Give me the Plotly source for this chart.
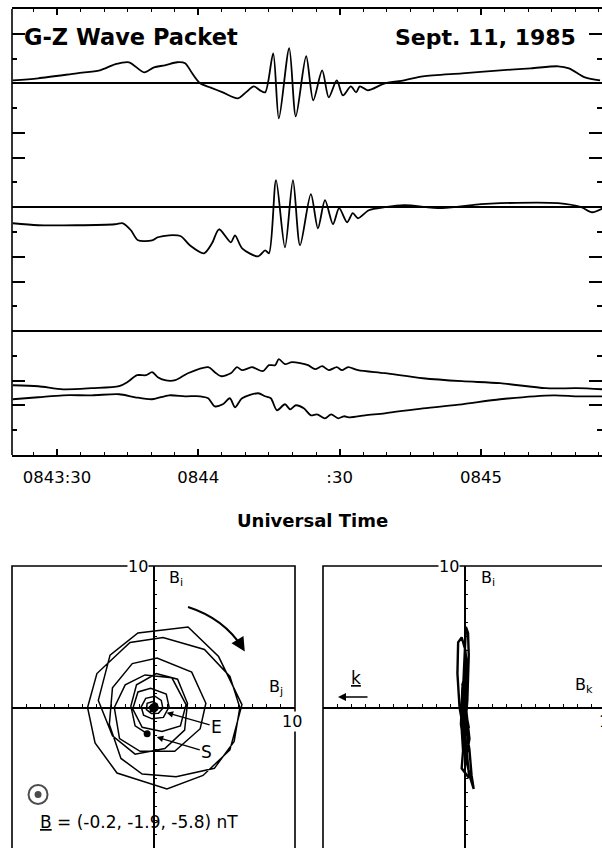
import plotly.graph_objects as go

# ---------------------------------------------------------------------------
# Data: magnetometer traces (time in seconds after 08:43:00 UT, field in nT)
# ---------------------------------------------------------------------------
t_top = [20.6, 26.0, 34.2, 39.1, 42.3, 45.3, 48.5, 50.6, 52.9, 55.5, 57.2, 58.7,
         60.4, 62.5, 65.2, 68.4, 70.1, 71.8, 73.1, 74.2, 75.9, 77.1, 79.3, 80.7,
         82.9, 84.4, 86.3, 87.7, 89.4, 90.7, 92.4, 93.5, 94.3, 96.0, 99.6, 103.7,
         107.7, 116.0, 124.1, 130.6, 136.4, 138.7, 142.1, 145.3]
b_top = [0.49, 0.81, 1.62, 2.10, 3.07, 3.40, 1.78, 2.59, 2.91, 3.40, 3.24, 1.62,
         0.00, -0.65, -1.46, -2.43, -1.46, -0.49, -1.13, -1.46, 4.85, -5.66, 5.66, -5.34,
         4.37, -2.75, 2.10, -2.27, 0.49, -1.94, -0.49, -1.46, -0.49, -1.13, 0.00, 0.49,
         1.13, 1.62, 2.10, 2.43, 2.75, 2.43, 0.97, 0.49]

t_mid = [20.6, 26.0, 34.2, 42.3, 44.0, 45.7, 47.2, 50.2, 51.4, 53.8, 56.3, 58.2,
         61.2, 62.9, 64.4, 66.9, 67.8, 69.3, 72.7, 74.2, 75.0, 76.5, 78.4, 80.1,
         81.6, 83.9, 85.4, 86.9, 88.6, 89.9, 91.6, 92.8, 93.9, 96.2, 99.6, 103.7,
         111.7, 120.0, 124.1, 136.4, 141.3, 143.6, 145.9]
b_mid = [-2.59, -2.91, -2.91, -2.75, -2.59, -3.72, -5.34, -5.34, -4.85, -4.53, -4.69, -6.15,
         -7.44, -5.83, -3.56, -5.66, -4.53, -6.63, -7.93, -6.96, -7.44, 4.37, -6.47, 4.37,
         -6.15, 2.10, -3.40, 1.13, -2.75, -0.16, -2.43, -0.97, -1.78, -0.49, 0.00, 0.32,
         -0.16, 0.49, 0.65, 0.65, 0.00, -0.81, -0.16]

t_low_a = [20.6, 26.0, 31.3, 37.4, 43.2, 44.9, 47.0, 48.9, 50.2, 51.4, 52.9, 55.1,
           57.8, 62.1, 63.5, 64.8, 66.9, 68.2, 69.3, 71.4, 73.7, 75.0, 76.3, 77.1,
           78.4, 79.9, 83.3, 84.8, 86.3, 87.7, 89.4, 90.5, 91.8, 93.9, 99.6, 107.7,
           116.0, 124.1, 133.8, 140.4, 145.9]
b_low_a = [-8.74, -8.90, -9.39, -9.22, -8.90, -8.25, -7.12, -7.12, -6.63, -7.44, -7.93, -7.93,
           -6.80, -5.83, -6.63, -7.28, -6.80, -5.83, -6.31, -5.83, -6.47, -5.50, -5.50, -4.53,
           -5.34, -5.02, -5.50, -6.15, -5.66, -6.31, -5.83, -6.31, -5.83, -6.31, -6.80, -7.61,
           -8.09, -8.41, -9.22, -9.22, -9.39]

t_low_b = [20.6, 26.0, 31.3, 37.4, 43.2, 46.6, 50.2, 53.8, 57.2, 60.4, 62.1, 63.5,
           65.2, 66.7, 67.8, 69.3, 72.7, 74.2, 75.4, 76.7, 78.4, 79.5, 80.7, 82.4,
           83.9, 85.2, 86.9, 88.2, 89.7, 90.9, 92.2, 95.4, 99.6, 107.7, 116.0, 124.1,
           135.5, 140.4, 145.9]
b_low_b = [-11.00, -10.68, -10.36, -10.36, -10.19, -10.68, -11.00, -10.36, -10.52, -10.52, -10.84, -12.14,
           -11.81, -10.84, -12.30, -10.84, -10.03, -10.52, -10.84, -12.78, -11.81, -12.62, -11.97, -12.46,
           -13.59, -13.43, -14.08, -13.43, -14.08, -13.75, -13.92, -13.59, -13.27, -12.46, -11.81, -11.00,
           -10.36, -10.52, -10.52]

time_tickvals = [30, 60, 90, 120]
time_ticktext = ["0843:30", "0844", ":30", "0845"]

# Hodogram samples (nT), from S (start) to E (end)
hodo_bj = [-0.45,
           -1.30, -1.60, -1.20, 0.20, 1.70, 2.40, 2.20, 0.80, -1.30, -2.90, -3.90, -3.07,
           -1.10, 2.44, 4.60, 6.25, 5.40, 3.50, 0.95, -2.58, -4.13, -4.66, -4.00, -1.66,
           0.67, 3.60, 5.40, 6.10, 5.70, 4.30, 1.60, -0.80, -2.30, -3.12, -2.90, -1.50,
           0.25, 2.70, 3.70, 3.30, 1.50, -0.95, -2.40, -2.77, -2.00, -0.60,
           1.30, 2.30, 1.90, 0.60, -0.80, -1.47, -1.10, -0.20,
           0.90, 1.10, 0.70, -0.10, -0.70, -0.87, -0.55, 0.10,
           0.55, 0.66, 0.35, -0.15, -0.50, -0.45, -0.05,
           0.25, 0.30, 0.10, -0.20, -0.28, -0.10,
           0.05]
hodo_bi = [-1.85,
           -1.30, 0.10, 1.60, 2.40, 2.00, 0.30, -1.60, -2.90, -3.30, -2.00, 0.50, 3.70,
           5.27, 5.69, 3.60, 0.20, -3.00, -4.80, -5.76, -4.63, -2.50, 0.00, 2.40, 4.60,
           4.95, 4.10, 2.20, 0.00, -2.40, -4.30, -4.90, -4.70, -3.60, -1.20, 1.40, 3.10,
           3.50, 2.50, 0.30, -1.50, -3.10, -3.10, -2.20, 0.00, 1.60, 2.30,
           2.10, 0.20, -1.30, -1.70, -1.40, -0.10, 1.10, 1.35,
           0.95, 0.05, -0.70, -0.80, -0.55, 0.05, 0.65, 0.80,
           0.50, -0.05, -0.40, -0.42, -0.15, 0.30, 0.42,
           0.25, -0.05, -0.30, -0.25, 0.05, 0.20,
           0.00]
hodo_bk = [0.05,
           0.10, -0.05, 0.15, 0.05, 0.20, 0.10, -0.10, 0.05, 0.15, 0.00, 0.20, 0.30,
           0.25, 0.10, 0.00, -0.15, 0.35, 0.50, 0.65, 0.30, 0.10, -0.35, -0.50, -0.45,
           -0.20, 0.05, 0.25, 0.15, -0.05, -0.20, 0.25, 0.35, 0.10, -0.25, -0.15, 0.20,
           0.30, 0.20, 0.05, -0.20, -0.10, 0.20, 0.35, 0.10, -0.15, 0.05,
           0.25, 0.10, -0.10, 0.15, 0.30, 0.05, -0.10, 0.15,
           0.20, 0.05, -0.05, 0.15, 0.10, 0.00, 0.05, 0.10,
           0.05, 0.00, 0.05, 0.10, 0.00, 0.05, 0.00,
           0.05, 0.00, 0.05, 0.00, 0.05, 0.00,
           0.00]

# ---------------------------------------------------------------------------
# Geometry helpers (pixel -> paper)
# ---------------------------------------------------------------------------
W, H = 602, 848


def fx(p):
    return p / W


def fy(p):
    return 1 - p / H


FONT = "DejaVu Sans"
INK = "black"
LW = 1.6

STRIP_L, STRIP_T, STRIP_B = 12, 9, 455
HODO_T = 566
L_HODO = (12, 295)
R_HODO = (323, 602)
HODO_CY = 707.5
L_CX, R_CX = 153.5, 464.5
PPU = 14.15  # pixels per nT in the hodograms

fig = go.Figure()

line_kw = dict(color=INK, width=1.8, shape="spline", smoothing=0.8)
fig.add_trace(go.Scatter(x=t_top, y=b_top, mode="lines", line=line_kw, xaxis="x", yaxis="y"))
fig.add_trace(go.Scatter(x=t_mid, y=b_mid, mode="lines", line=line_kw, xaxis="x", yaxis="y2"))
fig.add_trace(go.Scatter(x=t_low_a, y=b_low_a, mode="lines", line=line_kw, xaxis="x", yaxis="y3"))
fig.add_trace(go.Scatter(x=t_low_b, y=b_low_b, mode="lines", line=line_kw, xaxis="x", yaxis="y3"))

# Hodogram Bj-Bi
fig.add_trace(go.Scatter(x=hodo_bj, y=hodo_bi, mode="lines", line=dict(color=INK, width=1.5),
                         xaxis="x2", yaxis="y4"))
fig.add_trace(go.Scatter(x=[hodo_bj[0]], y=[hodo_bi[0]], mode="markers",
                         marker=dict(color=INK, size=7), xaxis="x2", yaxis="y4"))
fig.add_trace(go.Scatter(x=[hodo_bj[-1]], y=[hodo_bi[-1]], mode="markers",
                         marker=dict(color=INK, size=9), xaxis="x2", yaxis="y4"))
# "out of page" symbol for the background field direction
fig.add_trace(go.Scatter(x=[-8.16, -8.16], y=[-6.15, -6.15], mode="markers",
                         marker=dict(color=INK, size=[19, 5], symbol=["circle-open", "circle"],
                                     line=dict(width=2, color=INK)),
                         xaxis="x2", yaxis="y4"))

# Hodogram Bk-Bi
fig.add_trace(go.Scatter(x=hodo_bk, y=hodo_bi, mode="lines", line=dict(color=INK, width=2.4),
                         xaxis="x3", yaxis="y5"))

# ---------------------------------------------------------------------------
# Axes
# ---------------------------------------------------------------------------
t_per_px = 30.0 / 141.3
t_left = 30 - (57 - STRIP_L) * t_per_px
t_right = 30 + (W - 57) * t_per_px
strip_dom = [fy(STRIP_B), fy(STRIP_T)]

fig.update_layout(
    xaxis=dict(domain=[fx(STRIP_L), 1], range=[t_left, t_right], anchor="y",
               showline=True, linecolor=INK, linewidth=LW, mirror="ticks",
               ticks="inside", ticklen=6, tickwidth=LW, tickcolor=INK,
               tickmode="array", tickvals=time_tickvals, ticktext=time_ticktext,
               tickfont=dict(family=FONT, size=16.5, color=INK), ticklabelstandoff=6,
               minor=dict(tick0=0, dtick=5, ticks="inside", ticklen=3, tickwidth=1.3, tickcolor=INK),
               showgrid=False, zeroline=False),
    yaxis=dict(domain=strip_dom, range=[-60, 12], anchor="x",
               showline=False, mirror="ticks", ticks="inside", ticklen=13, tickwidth=LW,
               tickcolor=INK, tickmode="array", tickvals=[8, -8, -12, -28, -32, -48, -52],
               minor=dict(tickmode="array", tickvals=[4, -4, -16, -24, -36, -44, -56],
                          ticks="inside", ticklen=5, tickwidth=LW, tickcolor=INK),
               showticklabels=False, showgrid=False,
               zeroline=True, zerolinecolor=INK, zerolinewidth=1.5),
    yaxis2=dict(overlaying="y", range=[-40, 32], anchor="x", showticklabels=False,
                ticks="", showgrid=False, showline=False,
                zeroline=True, zerolinecolor=INK, zerolinewidth=1.5),
    yaxis3=dict(overlaying="y", range=[-20, 52], anchor="x", showticklabels=False,
                ticks="", showgrid=False, showline=False,
                zeroline=True, zerolinecolor=INK, zerolinewidth=1.5),
)

hodo_y_range = [(HODO_CY - H) / PPU, (HODO_CY - HODO_T) / PPU]
hodo_y_dom = [0, fy(HODO_T)]
hx = dict(anchor="free", position=fy(HODO_CY), showline=True, linecolor=INK, linewidth=LW,
          ticks="inside", ticklen=3, tickwidth=1.2, tickcolor=INK, dtick=1, tick0=0,
          showticklabels=False, showgrid=False, zeroline=False)
hy = dict(anchor="free", showline=True, linecolor=INK, linewidth=LW,
          ticks="inside", ticklen=3, tickwidth=1.2, tickcolor=INK, dtick=1, tick0=0,
          showticklabels=False, showgrid=False, zeroline=False, domain=hodo_y_dom,
          range=hodo_y_range)
fig.update_layout(
    xaxis2=dict(hx, domain=[fx(L_HODO[0]), fx(L_HODO[1])],
                range=[(L_HODO[0] - L_CX) / PPU, (L_HODO[1] - L_CX) / PPU]),
    yaxis4=dict(hy, position=fx(L_CX)),
    xaxis3=dict(hx, domain=[fx(R_HODO[0]), fx(R_HODO[1])],
                range=[(R_HODO[0] - R_CX) / PPU, (R_HODO[1] - R_CX) / PPU]),
    yaxis5=dict(hy, position=fx(R_CX)),
)

# ---------------------------------------------------------------------------
# Frames and decorations
# ---------------------------------------------------------------------------
shapes = [
    dict(type="line", xref="paper", yref="paper", x0=fx(STRIP_L), x1=fx(STRIP_L),
         y0=fy(STRIP_T), y1=fy(STRIP_B), line=dict(color=INK, width=LW)),
    dict(type="rect", xref="paper", yref="paper", x0=fx(L_HODO[0]), x1=fx(L_HODO[1]),
         y0=fy(H + 10), y1=fy(HODO_T), line=dict(color=INK, width=LW)),
    dict(type="rect", xref="paper", yref="paper", x0=fx(R_HODO[0]), x1=fx(W + 10),
         y0=fy(H + 10), y1=fy(HODO_T), line=dict(color=INK, width=LW)),
    # polarization sense arrow (clockwise arc)
    dict(type="path", xref="x2", yref="y4", path="M 2.44,7.10 Q 4.99,6.28 6.30,4.20",
         line=dict(color=INK, width=2)),
]

txt = dict(family=FONT, color=INK)
bold = dict(family=FONT, color=INK, weight="bold")
annotations = [
    dict(text="G-Z Wave Packet", xref="paper", yref="paper", x=fx(22), y=fy(37),
         xanchor="left", yanchor="middle", showarrow=False, font=dict(bold, size=22.5)),
    dict(text="Sept. 11, 1985", xref="paper", yref="paper", x=fx(578), y=fy(37),
         xanchor="right", yanchor="middle", showarrow=False, font=dict(bold, size=22)),
    dict(text="Universal Time", xref="paper", yref="paper", x=fx(312), y=fy(520),
         xanchor="center", yanchor="middle", showarrow=False, font=dict(bold, size=18)),
    # left hodogram
    dict(text="10", xref="x2", yref="y4", x=-0.35, y=10, xanchor="right", yanchor="middle",
         showarrow=False, bgcolor="white", borderpad=0, font=dict(txt, size=16)),
    dict(text="10", xref="x2", yref="y4", x=9.82, y=-0.99, xanchor="center", yanchor="middle",
         showarrow=False, bgcolor="white", borderpad=0, font=dict(txt, size=16)),
    dict(text="B<sub>i</sub>", xref="x2", yref="y4", x=0.95, y=9.15, xanchor="left",
         yanchor="middle", showarrow=False, font=dict(txt, size=16)),
    dict(text="B<sub>j</sub>", xref="x2", yref="y4", x=8.0, y=1.38, xanchor="left",
         yanchor="middle", showarrow=False, font=dict(txt, size=16)),
    dict(text="E", xref="x2", yref="y4", x=0.93, y=-0.37, ax=50, ay=14, showarrow=True,
         arrowhead=2, arrowsize=1, arrowwidth=1.3, arrowcolor=INK, font=dict(txt, size=17)),
    dict(text="S", xref="x2", yref="y4", x=0.23, y=-2.09, ax=50, ay=15, showarrow=True,
         arrowhead=2, arrowsize=1, arrowwidth=1.3, arrowcolor=INK, font=dict(txt, size=17)),
    dict(text="", xref="x2", yref="y4", x=6.45, y=3.95, axref="x2", ayref="y4", ax=6.0, ay=4.69,
         showarrow=True, arrowhead=2, arrowsize=1.4, arrowwidth=2, arrowcolor=INK),
    dict(text="<u>B</u> = (-0.2, -1.9, -5.8) nT", xref="x2", yref="y4", x=-8.16, y=-8.09,
         xanchor="left", yanchor="middle", showarrow=False, font=dict(txt, size=17)),
    # right hodogram
    dict(text="10", xref="x3", yref="y5", x=-0.35, y=10, xanchor="right", yanchor="middle",
         showarrow=False, bgcolor="white", borderpad=0, font=dict(txt, size=16)),
    dict(text="10", xref="x3", yref="y5", x=9.35, y=-0.99, xanchor="left", yanchor="middle",
         showarrow=False, font=dict(txt, size=16)),
    dict(text="B<sub>i</sub>", xref="x3", yref="y5", x=1.02, y=9.15, xanchor="left",
         yanchor="middle", showarrow=False, font=dict(txt, size=16)),
    dict(text="B<sub>k</sub>", xref="x3", yref="y5", x=7.67, y=1.55, xanchor="left",
         yanchor="middle", showarrow=False, font=dict(txt, size=16)),
    dict(text="<u>k</u>", xref="x3", yref="y5", x=-7.67, y=2.1, xanchor="center",
         yanchor="middle", showarrow=False, font=dict(txt, size=17)),
    dict(text="", xref="x3", yref="y5", x=-8.94, y=0.74, ax=31, ay=0, showarrow=True,
         arrowhead=2, arrowsize=1, arrowwidth=1.6, arrowcolor=INK),
]

fig.update_layout(
    width=W, height=H, autosize=False,
    margin=dict(l=0, r=0, t=0, b=0, pad=0),
    paper_bgcolor="white", plot_bgcolor="white",
    showlegend=False, shapes=shapes, annotations=annotations,
    font=dict(family=FONT, color=INK),
)

fig.write_html("out.html")
